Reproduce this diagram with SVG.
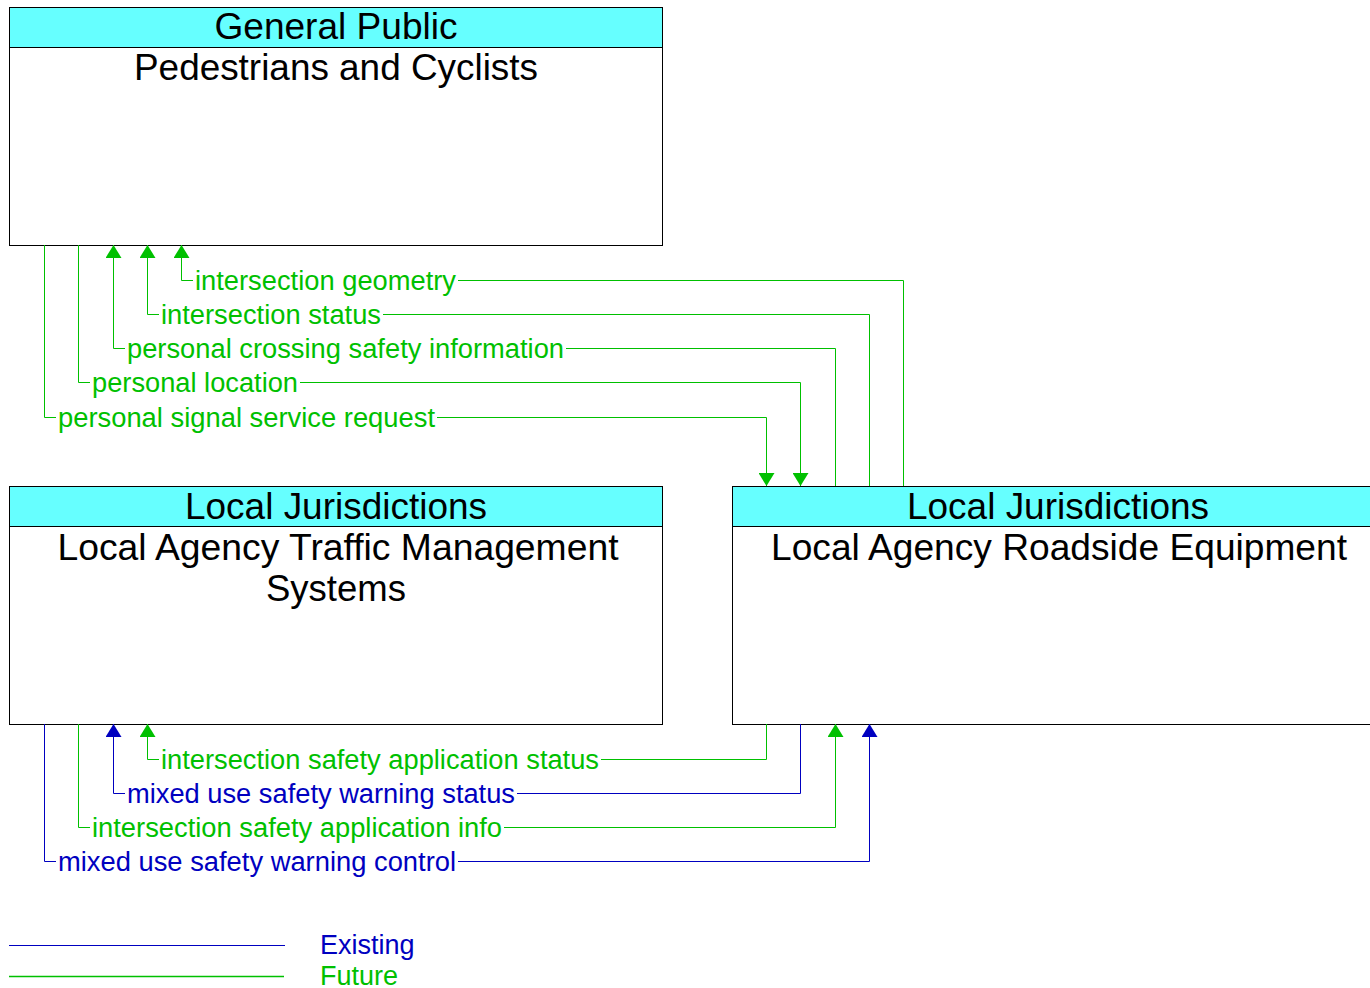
<svg xmlns="http://www.w3.org/2000/svg" width="1370" height="988" viewBox="0 0 1370 988">
<style>
.box{fill:#ffffff;stroke:#000000;stroke-width:1}
.hdr{fill:#66ffff;stroke:#000000;stroke-width:1}
.t{font-family:"Liberation Sans",Arial,sans-serif;font-size:36px;fill:#000000;text-anchor:middle}
.lbl{font-family:"Liberation Sans",Arial,sans-serif;font-size:27px}
.g{fill:#00c000}
.b{fill:#0000c0}
.cg{fill:none;stroke:#00c000;stroke-width:1}
.cb{fill:none;stroke:#0000c0;stroke-width:1}
</style>
<defs>
<marker id="ag" markerUnits="userSpaceOnUse" markerWidth="14" markerHeight="16" refX="13" refY="8" orient="auto" viewBox="0 0 13 16"><path d="M0,0 L13,8 L0,16 z" fill="#00c000"/></marker>
<marker id="ab" markerUnits="userSpaceOnUse" markerWidth="14" markerHeight="16" refX="13" refY="8" orient="auto" viewBox="0 0 13 16"><path d="M0,0 L13,8 L0,16 z" fill="#0000c0"/></marker>
</defs>
<g id="node-pedestrians">
<rect class="box" x="9.5" y="7.5" width="653" height="238"/>
<rect class="hdr" x="9.5" y="7.5" width="653" height="40"/>
<text class="t" x="336" y="39" textLength="243" lengthAdjust="spacingAndGlyphs">General Public</text>
<text class="t" x="336" y="80" textLength="404" lengthAdjust="spacingAndGlyphs">Pedestrians and Cyclists</text>
</g>
<g id="node-tms">
<rect class="box" x="9.5" y="486.5" width="653" height="238"/>
<rect class="hdr" x="9.5" y="486.5" width="653" height="40"/>
<text class="t" x="336" y="519" textLength="302" lengthAdjust="spacingAndGlyphs">Local Jurisdictions</text>
<text class="t" x="338" y="560" textLength="561" lengthAdjust="spacingAndGlyphs">Local Agency Traffic Management</text>
<text class="t" x="336" y="601" textLength="140" lengthAdjust="spacingAndGlyphs">Systems</text>
</g>
<g id="node-rse">
<rect class="box" x="732.5" y="486.5" width="653" height="238"/>
<rect class="hdr" x="732.5" y="486.5" width="653" height="40"/>
<text class="t" x="1058" y="519" textLength="302" lengthAdjust="spacingAndGlyphs">Local Jurisdictions</text>
<text class="t" x="1059" y="560" textLength="576" lengthAdjust="spacingAndGlyphs">Local Agency Roadside Equipment</text>
</g>
<g id="connectors">
<path class="cg" d="M903.5,486 V280.5 H458 M193,280.5 H181.5 V245" marker-end="url(#ag)"/>
<path class="cg" d="M869.5,486 V314.5 H383 M159,314.5 H147.5 V245" marker-end="url(#ag)"/>
<path class="cg" d="M835.5,486 V348.5 H566 M125,348.5 H113.5 V245" marker-end="url(#ag)"/>
<path class="cg" d="M78.5,245 V382.5 H90 M300,382.5 H800.5 V486" marker-end="url(#ag)"/>
<path class="cg" d="M44.5,245 V417.5 H56 M437,417.5 H766.5 V486" marker-end="url(#ag)"/>
<path class="cg" d="M766.5,724 V759.5 H601 M159,759.5 H147.5 V724" marker-end="url(#ag)"/>
<path class="cb" d="M800.5,724 V793.5 H517 M125,793.5 H113.5 V724" marker-end="url(#ab)"/>
<path class="cg" d="M78.5,724 V827.5 H90 M504,827.5 H835.5 V724" marker-end="url(#ag)"/>
<path class="cb" d="M44.5,724 V861.5 H56 M458,861.5 H869.5 V724" marker-end="url(#ab)"/>
<text class="lbl g" x="195" y="290" textLength="261" lengthAdjust="spacingAndGlyphs">intersection geometry</text>
<text class="lbl g" x="161" y="324" textLength="220" lengthAdjust="spacingAndGlyphs">intersection status</text>
<text class="lbl g" x="127" y="358" textLength="437" lengthAdjust="spacingAndGlyphs">personal crossing safety information</text>
<text class="lbl g" x="92" y="392" textLength="206" lengthAdjust="spacingAndGlyphs">personal location</text>
<text class="lbl g" x="58" y="427" textLength="377" lengthAdjust="spacingAndGlyphs">personal signal service request</text>
<text class="lbl g" x="161" y="769" textLength="438" lengthAdjust="spacingAndGlyphs">intersection safety application status</text>
<text class="lbl b" x="127" y="803" textLength="388" lengthAdjust="spacingAndGlyphs">mixed use safety warning status</text>
<text class="lbl g" x="92" y="837" textLength="410" lengthAdjust="spacingAndGlyphs">intersection safety application info</text>
<text class="lbl b" x="58" y="871" textLength="398" lengthAdjust="spacingAndGlyphs">mixed use safety warning control</text>
</g>
<g id="legend">
<line x1="9" y1="945.5" x2="285" y2="945.5" stroke="#0000c0" stroke-width="1"/>
<line x1="9" y1="976.5" x2="284" y2="976.5" stroke="#00c000" stroke-width="1.3"/>
<text class="lbl b" x="320" y="954">Existing</text>
<text class="lbl g" x="320" y="985">Future</text>
</g>
</svg>
